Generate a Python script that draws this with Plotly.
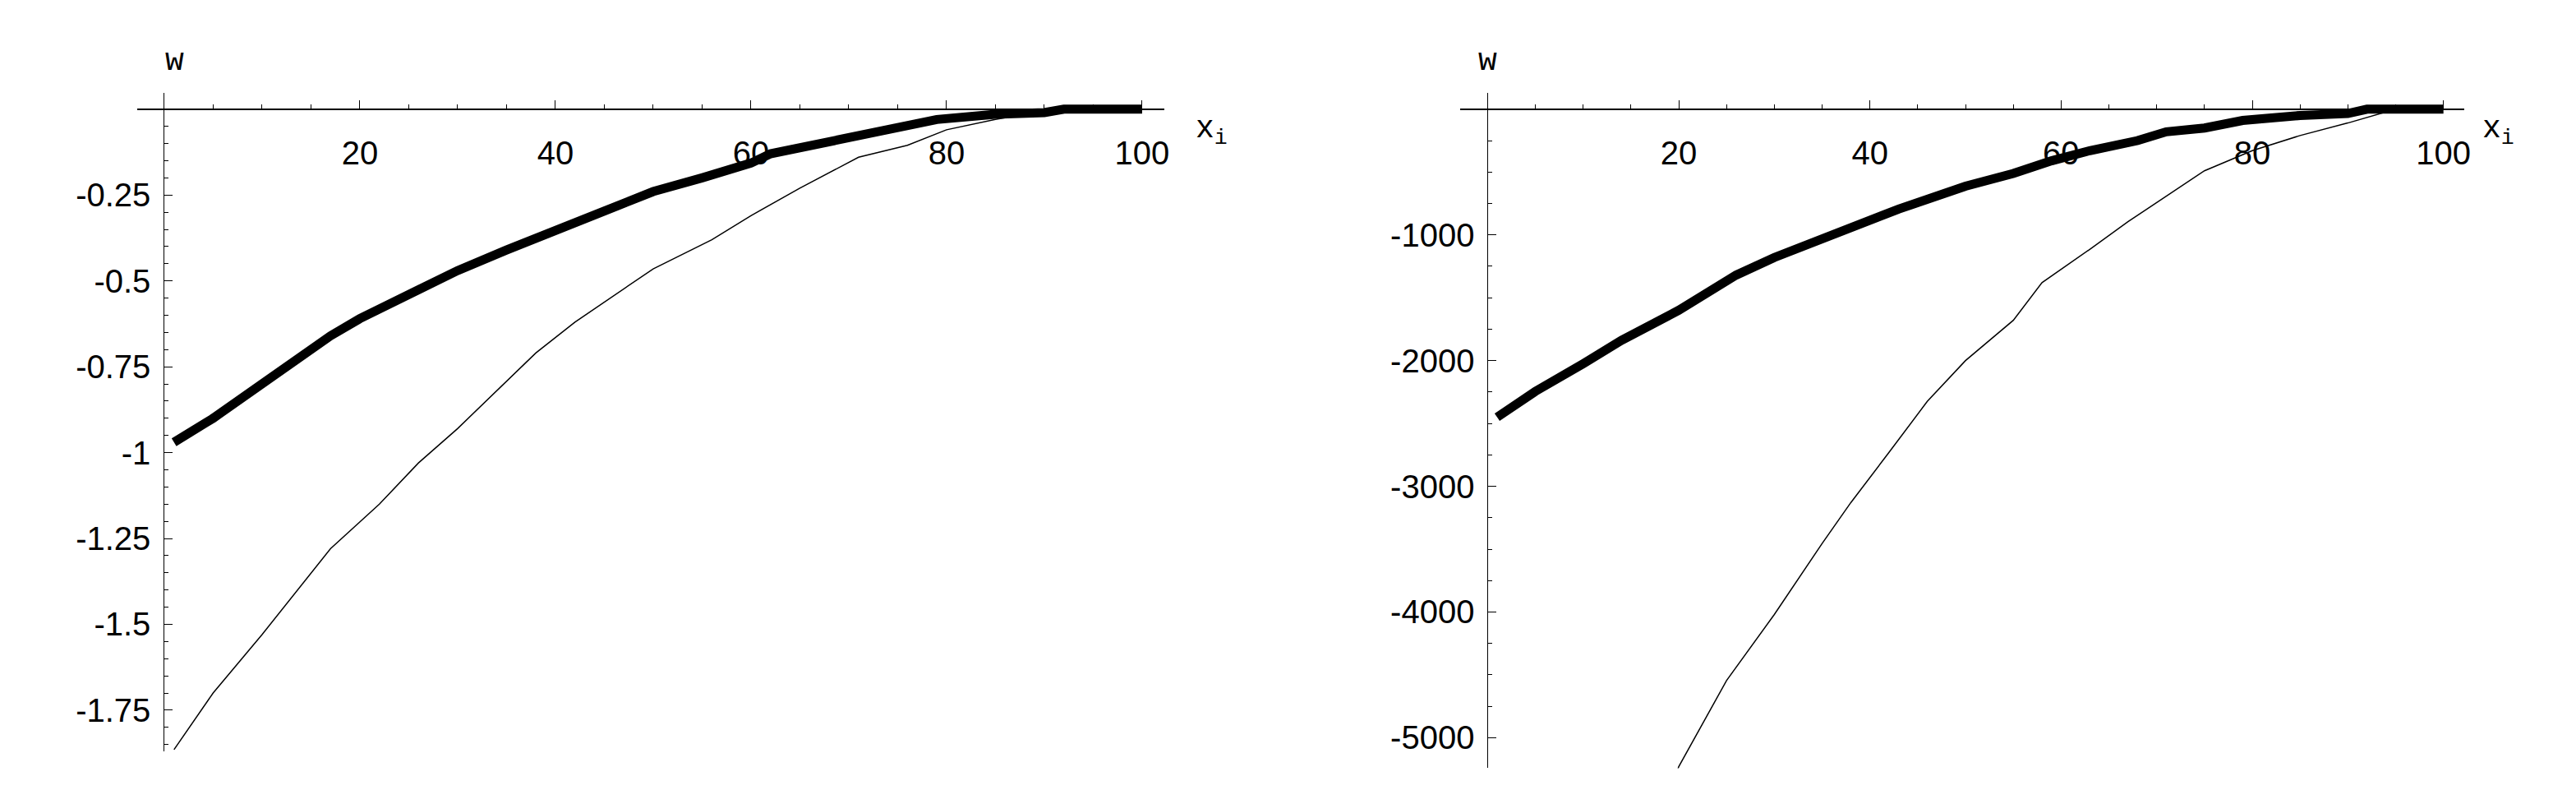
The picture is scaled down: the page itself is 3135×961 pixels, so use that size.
import plotly.graph_objects as go

# Left panel data
xL_thick = [1, 5, 10, 17, 20, 25, 30, 35, 38, 42, 46, 50, 55, 60, 62, 67, 72, 79, 85, 90, 92, 100]
yL_thick = [-0.97, -0.9, -0.8, -0.66, -0.61, -0.54, -0.47, -0.41, -0.377, -0.33, -0.29, -0.24, -0.2, -0.157, -0.13, -0.1, -0.07, -0.03, -0.015, -0.01, 0, 0]
xL_thin = [1, 5, 10, 17, 22, 26, 30, 38, 42, 50, 56, 60, 65, 71, 76, 80, 85, 89, 92, 100]
yL_thin = [-1.865, -1.70, -1.53, -1.28, -1.15, -1.03, -0.93, -0.71, -0.62, -0.465, -0.38, -0.31, -0.23, -0.14, -0.105, -0.06, -0.03, -0.01, 0, 0]

# Right panel data
xR_thick = [1, 5, 10, 14, 20, 26, 30, 35, 38, 43, 50, 55, 59, 63, 68, 71, 75, 79, 85, 90, 92, 100]
yR_thick = [-2450, -2245, -2025, -1840, -1600, -1320, -1180, -1035, -935, -795, -613, -512, -411, -330, -250, -180, -150, -90, -50, -35, 0, 0]
xR_thin = [18, 20, 25, 30, 35, 38, 42, 46, 50, 55, 58, 63, 67, 71, 75, 80, 85, 90, 95, 100]
yR_thin = [-5700, -5230, -4545, -4020, -3455, -3130, -2730, -2325, -2000, -1680, -1380, -1115, -895, -690, -490, -330, -210, -110, 0, 0]

x_ticks = [20, 40, 60, 80, 100]
yL_ticks = [-0.25, -0.5, -0.75, -1, -1.25, -1.5, -1.75]
yL_text = ["-0.25", "-0.5", "-0.75", "-1", "-1.25", "-1.5", "-1.75"]
yR_ticks = [-1000, -2000, -3000, -4000, -5000]
yR_text = ["-1000", "-2000", "-3000", "-4000", "-5000"]

fig = go.Figure()
fig.add_trace(go.Scatter(x=xL_thin, y=yL_thin, mode="lines", line=dict(color="black", width=1.5), xaxis="x", yaxis="y"))
fig.add_trace(go.Scatter(x=xL_thick, y=yL_thick, mode="lines", line=dict(color="black", width=11), xaxis="x", yaxis="y"))
fig.add_trace(go.Scatter(x=xR_thin, y=yR_thin, mode="lines", line=dict(color="black", width=1.5), xaxis="x2", yaxis="y2"))
fig.add_trace(go.Scatter(x=xR_thick, y=yR_thick, mode="lines", line=dict(color="black", width=11), xaxis="x2", yaxis="y2"))

tf = dict(family="Liberation Sans", size=40, color="black")
common_x = dict(showgrid=False, zeroline=False, showline=True, linecolor="black", linewidth=2,
                ticks="inside", ticklen=10, tickcolor="black", tickfont=tf, tickvals=x_ticks,
                ticklabelstandoff=18,
                minor=dict(dtick=5, ticks="inside", ticklen=5, tickcolor="black"), anchor="free")
common_y = dict(showgrid=False, zeroline=False, showline=True, linecolor="black", linewidth=1,
                ticks="inside", ticklen=10, tickcolor="black", tickfont=tf, anchor="free",
                ticklabelstandoff=8)

af = dict(family="Liberation Mono", size=38, color="black")
fig.update_layout(
    width=3135, height=961, margin=dict(l=0, r=0, t=0, b=0),
    paper_bgcolor="white", plot_bgcolor="white", showlegend=False,
    xaxis=dict(common_x, domain=[0.0507, 0.4507], range=[-2.8, 102.3], position=0.870),
    yaxis=dict(common_y, domain=[0.0572, 0.891], range=[-1.87, 0.048], position=0.0612,
               tickvals=yL_ticks, ticktext=yL_text,
               minor=dict(dtick=0.05, ticks="inside", ticklen=5, tickcolor="black")),
    xaxis2=dict(common_x, domain=[0.5656, 0.9566], range=[-2.9, 102.2], position=0.870),
    yaxis2=dict(common_y, domain=[0.036, 0.891], range=[-5242, 131], position=0.5764,
                tickvals=yR_ticks, ticktext=yR_text,
                minor=dict(dtick=250, ticks="inside", ticklen=5, tickcolor="black")),
    annotations=[
        dict(text="w", x=0.0612, y=0.955, xref="paper", yref="paper", showarrow=False, font=af),
        dict(text="x<sub>i</sub>", x=0.462, y=0.87, xref="paper", yref="paper", showarrow=False,
             xanchor="left", font=af),
        dict(text="w", x=0.5764, y=0.955, xref="paper", yref="paper", showarrow=False, font=af),
        dict(text="x<sub>i</sub>", x=0.963, y=0.87, xref="paper", yref="paper", showarrow=False,
             xanchor="left", font=af),
    ],
)
fig.write_html("out.html")
